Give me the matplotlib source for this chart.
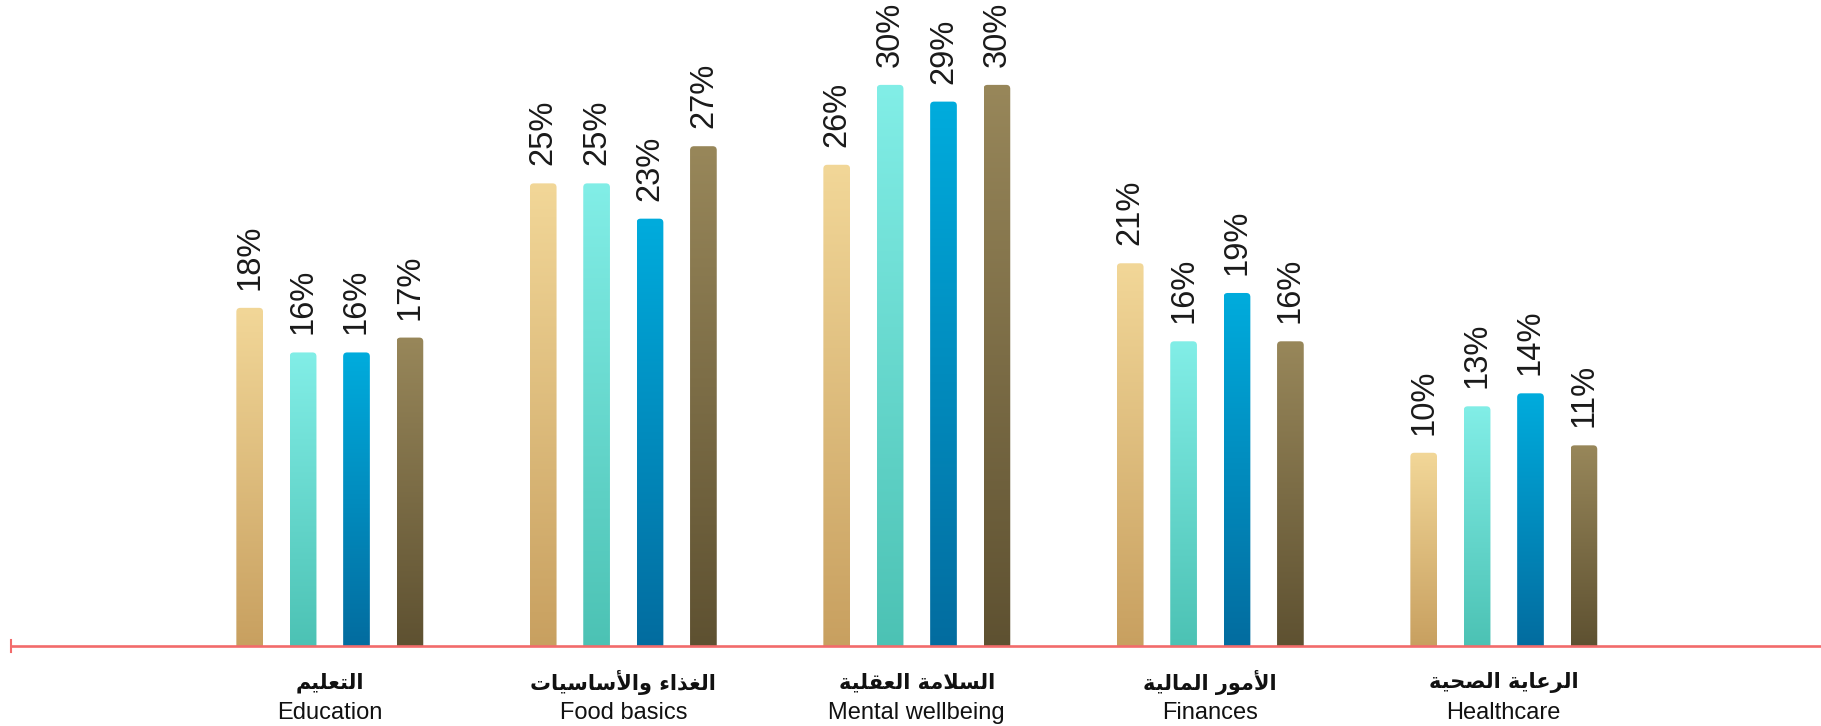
import numpy as np
import matplotlib
matplotlib.use("Agg")
import matplotlib.pyplot as plt
from matplotlib.path import Path
from matplotlib.patches import PathPatch
from matplotlib.colors import to_rgb

# dati
categorie_ar = ["التعليم", "الغذاء والأساسيات", "السلامة العقلية", "الأمور المالية", "الرعاية الصحية"]
categorie_en = ["Education", "Food basics", "Mental wellbeing", "Finances", "Healthcare"]
serie_1 = [18.2, 24.9, 25.9, 20.6, 10.4]
serie_2 = [15.8, 24.9, 30.2, 16.4, 12.9]
serie_3 = [15.8, 23.0, 29.3, 19.0, 13.6]
serie_4 = [16.6, 26.9, 30.2, 16.4, 10.8]

# gradienti (alto, basso)
gradienti = [("#F2D798", "#C8A060"),
             ("#82EEE7", "#4CC2B4"),
             ("#00ACDD", "#036C9F"),
             ("#98875A", "#5E5131")]

# forme di presentazione arabe (isolata, finale, iniziale, mediale)
AR_FORMS = {
    "\u0621": ("\uFE80",),
    "\u0623": ("\uFE83", "\uFE84"),
    "\u0627": ("\uFE8D", "\uFE8E"),
    "\u0628": ("\uFE8F", "\uFE90", "\uFE91", "\uFE92"),
    "\u0629": ("\uFE93", "\uFE94"),
    "\u062A": ("\uFE95", "\uFE96", "\uFE97", "\uFE98"),
    "\u062D": ("\uFEA1", "\uFEA2", "\uFEA3", "\uFEA4"),
    "\u0630": ("\uFEAB", "\uFEAC"),
    "\u0631": ("\uFEAD", "\uFEAE"),
    "\u0633": ("\uFEB1", "\uFEB2", "\uFEB3", "\uFEB4"),
    "\u0635": ("\uFEB9", "\uFEBA", "\uFEBB", "\uFEBC"),
    "\u0639": ("\uFEC9", "\uFECA", "\uFECB", "\uFECC"),
    "\u063A": ("\uFECD", "\uFECE", "\uFECF", "\uFED0"),
    "\u0642": ("\uFED5", "\uFED6", "\uFED7", "\uFED8"),
    "\u0644": ("\uFEDD", "\uFEDE", "\uFEDF", "\uFEE0"),
    "\u0645": ("\uFEE1", "\uFEE2", "\uFEE3", "\uFEE4"),
    "\u0648": ("\uFEED", "\uFEEE"),
    "\u064A": ("\uFEF1", "\uFEF2", "\uFEF3", "\uFEF4"),
}
LAM_ALEF = {"\u0623": ("\uFEF7", "\uFEF8"), "\u0627": ("\uFEFB", "\uFEFC")}


def shape_ar(s):
    # matplotlib non fa lo shaping dell'arabo: lo facciamo a mano
    toks = []
    i = 0
    while i < len(s):
        if s[i] == "\u0644" and i + 1 < len(s) and s[i + 1] in LAM_ALEF:
            toks.append(("LA", s[i + 1]))
            i += 2
        else:
            toks.append(("C", s[i]))
            i += 1

    def joins_next(t):
        return t[0] == "C" and len(AR_FORMS.get(t[1], ())) == 4

    def is_joining(t):
        return t[0] == "LA" or (t[1] in AR_FORMS and t[1] != "\u0621")

    out = []
    for k, t in enumerate(toks):
        prev_j = k > 0 and joins_next(toks[k - 1])
        nxt = k + 1 < len(toks) and is_joining(toks[k + 1])
        if t[0] == "LA":
            out.append(LAM_ALEF[t[1]][1 if prev_j else 0])
            continue
        forms = AR_FORMS.get(t[1])
        if forms is None:
            out.append(t[1])
        elif len(forms) == 4:
            if prev_j and nxt:
                out.append(forms[3])
            elif prev_j:
                out.append(forms[1])
            elif nxt:
                out.append(forms[2])
            else:
                out.append(forms[0])
        elif len(forms) == 2:
            out.append(forms[1] if prev_j else forms[0])
        else:
            out.append(forms[0])
    return "".join(reversed(out))


W, H, DPI = 1821, 726, 100
fig = plt.figure(figsize=(W / DPI, H / DPI), dpi=DPI)
base_px = 646
ax = fig.add_axes([0, (H - base_px) / H, 1, base_px / H])

unit_px = 293.5           # pixel per categoria
y_px = 18.58              # pixel per punto percentuale
x_left = -329.8 / unit_px
ax.set_xlim(x_left, x_left + W / unit_px)
ax.set_ylim(0, base_px / y_px)
ax.axis("off")

serie = [serie_1, serie_2, serie_3, serie_4]
x = np.arange(len(categorie_en))
passo = 53.4 / unit_px
larg = 26.7 / unit_px
rx = 4 / unit_px
ry = 4 / y_px

grad = np.linspace(0, 1, 256)[:, None]

for j, (vals, (c_top, c_bot)) in enumerate(zip(serie, gradienti)):
    top = np.array(to_rgb(c_top))
    bot = np.array(to_rgb(c_bot))
    img = (bot[None, None, :] * (1 - grad[..., None]) + top[None, None, :] * grad[..., None])
    for i, v in enumerate(vals):
        xc = x[i] + (j - 1.5) * passo
        x0, x1 = xc - larg / 2, xc + larg / 2
        verts = [(x0, 0), (x0, v - ry), (x0, v), (x0 + rx, v), (x1 - rx, v),
                 (x1, v), (x1, v - ry), (x1, 0), (x0, 0)]
        codes = [Path.MOVETO, Path.LINETO, Path.CURVE3, Path.CURVE3, Path.LINETO,
                 Path.CURVE3, Path.CURVE3, Path.LINETO, Path.CLOSEPOLY]
        patch = PathPatch(Path(verts, codes), facecolor="none", edgecolor="none")
        ax.add_patch(patch)
        im = ax.imshow(img, extent=[x0, x1, 0, v], origin="lower", aspect="auto",
                       interpolation="bilinear", zorder=2)
        im.set_clip_path(patch)
        ax.annotate(f"{round(v)}%", (xc, v), xytext=(0, 13), textcoords="offset points",
                    rotation=90, ha="center", va="bottom", fontsize=23.5,
                    family="Liberation Sans", color="#1a1a1a")

ax.set_xlim(x_left, x_left + W / unit_px)
ax.set_ylim(0, base_px / y_px)

# linea di base rossa con tacca a sinistra
x_start = x_left + 11 / unit_px
ax.plot([x_start, x_left + W / unit_px], [0, 0], color="#F26B6B", lw=1.9,
        clip_on=False, zorder=3, solid_capstyle="butt")
ax.plot([x_start, x_start], [-6 / y_px, 6 / y_px], color="#F26B6B", lw=1.5,
        clip_on=False, zorder=3)

for i in range(len(categorie_en)):
    ax.annotate(shape_ar(categorie_ar[i]), (x[i], 0), xytext=(0, -26.5),
                textcoords="offset points", ha="center", va="center",
                fontsize=15, fontweight="bold", family="DejaVu Sans", color="#111111")
    ax.annotate(categorie_en[i], (x[i], 0), xytext=(0, -48.5),
                textcoords="offset points", ha="center", va="center",
                fontsize=17, family="Liberation Sans", color="#111111")

fig.savefig("out.png", dpi=DPI)
